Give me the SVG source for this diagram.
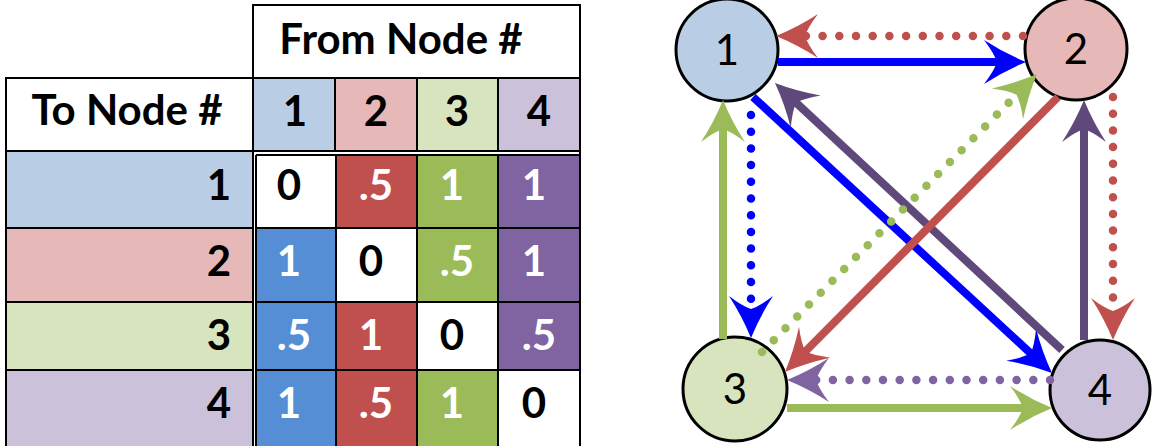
<svg xmlns="http://www.w3.org/2000/svg" width="1152" height="446" viewBox="0 0 1152 446">
  <style>
    .hdr { font-family: Lato, "Liberation Sans", sans-serif; font-weight: bold; font-size: 42px; fill: #000; }
    .num { font-family: Lato, "Liberation Sans", sans-serif; font-weight: bold; font-size: 42px; text-anchor: middle; }
    .wt { fill: #fff; }
    .bk { fill: #000; }
    .grid { stroke: #000; stroke-width: 2; fill: none; }
    .node circle { stroke: #000; stroke-width: 3; }
    .node text { font-family: Lato, "Liberation Sans", sans-serif; font-size: 42px; text-anchor: middle; fill: #000; }
    .solid { fill: none; stroke-width: 8; }
    .dots { fill: none; stroke-width: 8.5; stroke-linecap: round; stroke-dasharray: 0 16.7; }
  </style>
  <defs>
    <!-- notched arrowhead: line end at origin, tip 26px ahead -->
    <path id="head" d="M26,0 Q4,-9 -16,-22 Q-6,-9 -3,0 Q-6,9 -16,22 Q4,9 26,0 Z"/>
    <marker id="aBlue" markerUnits="userSpaceOnUse" orient="auto" refX="0" refY="0" markerWidth="10" markerHeight="10" overflow="visible"><use href="#head" fill="#0000FF"/></marker>
    <marker id="aRed" markerUnits="userSpaceOnUse" orient="auto" refX="0" refY="0" markerWidth="10" markerHeight="10" overflow="visible"><use href="#head" fill="#C0504D"/></marker>
    <marker id="aGreen" markerUnits="userSpaceOnUse" orient="auto" refX="0" refY="0" markerWidth="10" markerHeight="10" overflow="visible"><use href="#head" fill="#9BBB59"/></marker>
    <marker id="aPurple" markerUnits="userSpaceOnUse" orient="auto" refX="0" refY="0" markerWidth="10" markerHeight="10" overflow="visible"><use href="#head" fill="#5F497A"/></marker>
    <marker id="aLilac" markerUnits="userSpaceOnUse" orient="auto" refX="0" refY="0" markerWidth="10" markerHeight="10" overflow="visible"><use href="#head" fill="#8064A2"/></marker>
  </defs>

  <rect width="1152" height="446" fill="#fff"/>

  <!-- ===== Transition table ===== -->
  <g id="table">
    <!-- header cells -->
    <rect x="253" y="5" width="327" height="73" fill="#fff"/>
    <rect x="6" y="78" width="247" height="73" fill="#fff"/>
    <rect x="253" y="78" width="82" height="73" fill="#B9CDE5"/>
    <rect x="335" y="78" width="82" height="73" fill="#E6B9B8"/>
    <rect x="417" y="78" width="81" height="73" fill="#D7E4BD"/>
    <rect x="498" y="78" width="82" height="73" fill="#CCC1DA"/>
    <!-- row label cells -->
    <rect x="6" y="151" width="247" height="77" fill="#B9CDE5"/>
    <rect x="6" y="228" width="247" height="74" fill="#E6B9B8"/>
    <rect x="6" y="302" width="247" height="68" fill="#D7E4BD"/>
    <rect x="6" y="370" width="247" height="76" fill="#CCC1DA"/>
    <!-- data cells -->
    <rect x="256" y="155" width="80" height="73" fill="#fff"/>
    <rect x="336" y="155" width="81" height="73" fill="#C0504D"/>
    <rect x="417" y="155" width="81" height="73" fill="#9BBB59"/>
    <rect x="498" y="155" width="82" height="73" fill="#8064A2"/>

    <rect x="256" y="228" width="80" height="74" fill="#558ED5"/>
    <rect x="336" y="228" width="81" height="74" fill="#fff"/>
    <rect x="417" y="228" width="81" height="74" fill="#9BBB59"/>
    <rect x="498" y="228" width="82" height="74" fill="#8064A2"/>

    <rect x="256" y="302" width="80" height="68" fill="#558ED5"/>
    <rect x="336" y="302" width="81" height="68" fill="#C0504D"/>
    <rect x="417" y="302" width="81" height="68" fill="#fff"/>
    <rect x="498" y="302" width="82" height="68" fill="#8064A2"/>

    <rect x="256" y="370" width="80" height="76" fill="#558ED5"/>
    <rect x="336" y="370" width="81" height="76" fill="#C0504D"/>
    <rect x="417" y="370" width="81" height="76" fill="#9BBB59"/>
    <rect x="498" y="370" width="82" height="76" fill="#fff"/>

    <!-- grid lines -->
    <path class="grid" d="M253,151 V5 H580 V446 M6,446 V78 H580 M6,151 H580 M256,155 H580 M253,151 V446 M256,155 V446
                          M335,78 V151 M417,78 V151 M498,78 V151
                          M336,155 V446 M417,155 V446 M498,155 V446
                          M6,228 H253 M6,302 H253 M6,370 H253
                          M256,228 H580 M256,302 H580 M256,370 H580"/>

    <!-- header text -->
    <text class="hdr" x="401" y="54" text-anchor="middle">From Node #</text>
    <text class="hdr" x="127" y="125" text-anchor="middle">To Node #</text>
    <text class="num bk" x="295" y="126">1</text>
    <text class="num bk" x="376" y="126">2</text>
    <text class="num bk" x="457" y="126">3</text>
    <text class="num bk" x="539" y="126">4</text>

    <!-- row labels -->
    <text class="num bk" x="231" y="200" style="text-anchor:end">1</text>
    <text class="num bk" x="231" y="276" style="text-anchor:end">2</text>
    <text class="num bk" x="231" y="350" style="text-anchor:end">3</text>
    <text class="num bk" x="231" y="418" style="text-anchor:end">4</text>

    <!-- values -->
    <text class="num bk" x="289" y="200">0</text>
    <text class="num wt" x="376" y="200">.5</text>
    <text class="num wt" x="452" y="200">1</text>
    <text class="num wt" x="534" y="200">1</text>

    <text class="num wt" x="289" y="276">1</text>
    <text class="num bk" x="371" y="276">0</text>
    <text class="num wt" x="457" y="276">.5</text>
    <text class="num wt" x="534" y="276">1</text>

    <text class="num wt" x="294" y="350">.5</text>
    <text class="num wt" x="371" y="350">1</text>
    <text class="num bk" x="452" y="350">0</text>
    <text class="num wt" x="539" y="350">.5</text>

    <text class="num wt" x="289" y="418">1</text>
    <text class="num wt" x="376" y="418">.5</text>
    <text class="num wt" x="452" y="418">1</text>
    <text class="num bk" x="534" y="418">0</text>
  </g>

  <!-- ===== Graph nodes ===== -->
  <g id="node1" class="node"><circle cx="727" cy="50" r="51" fill="#B9CDE5"/><text x="727" y="65">1</text></g>
  <g id="node2" class="node"><circle cx="1076" cy="49" r="51" fill="#E6B9B8"/><text x="1076" y="64">2</text></g>
  <g id="node3" class="node"><circle cx="735" cy="389" r="52" fill="#D7E4BD"/><text x="735" y="404">3</text></g>
  <g id="node4" class="node"><circle cx="1100" cy="390" r="50" fill="#CCC1DA"/><text x="1100" y="405">4</text></g>

  <!-- ===== Connectors ===== -->
  <g id="connectors">
    <!-- 1 -> 2 -->
    <path class="solid" stroke="#0000FF" d="M778,62 L1000,62" marker-end="url(#aBlue)"/>
    <!-- 2 -> 1 -->
    <path class="dots" stroke="#C0504D" d="M1023,36 L802,36" marker-end="url(#aRed)"/>
    <!-- 1 -> 3 -->
    <path class="dots" stroke="#0000FF" d="M751,115 L751,312" marker-end="url(#aBlue)"/>
    <!-- 3 -> 1 -->
    <path class="solid" stroke="#9BBB59" d="M723,339 L723,126" marker-end="url(#aGreen)"/>
    <!-- 1 -> 4 -->
    <path class="solid" stroke="#0000FF" d="M753,97 L1032.9,355.4" marker-end="url(#aBlue)"/>
    <!-- 4 -> 1 -->
    <path class="solid" stroke="#5F497A" d="M1062,350 L794,100.7" marker-end="url(#aPurple)"/>
    <!-- 2 -> 3 -->
    <path class="solid" stroke="#C0504D" d="M1058,97 L803.3,353.5" marker-end="url(#aRed)"/>
    <!-- 3 -> 2 -->
    <path class="dots" stroke="#9BBB59" d="M762,352 L1018.7,92.5" marker-end="url(#aGreen)"/>
    <!-- 2 -> 4 -->
    <path class="dots" stroke="#C0504D" d="M1113,97 L1113,314" marker-end="url(#aRed)"/>
    <!-- 4 -> 2 -->
    <path class="solid" stroke="#5F497A" d="M1084,340 L1084,126" marker-end="url(#aPurple)"/>
    <!-- 4 -> 3 -->
    <path class="dots" stroke="#8064A2" d="M1050,380 L813,380" marker-end="url(#aLilac)"/>
    <!-- 3 -> 4 -->
    <path class="solid" stroke="#9BBB59" d="M787,408 L1026,408" marker-end="url(#aGreen)"/>
  </g>
</svg>
